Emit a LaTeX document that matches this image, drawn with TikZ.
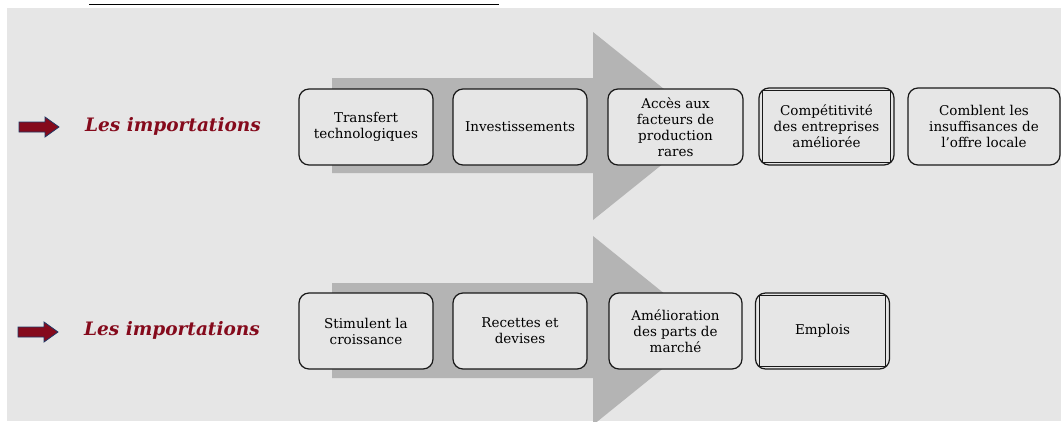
\documentclass[tikz,border=0pt]{standalone}
\usepackage{fontspec}
\setmainfont{DejaVu Serif}

\definecolor{fondgris}{HTML}{E6E6E6}
\definecolor{flechegris}{HTML}{B4B4B4}
\definecolor{bordeaux}{HTML}{850A1C}
\definecolor{bleunuit}{HTML}{1F3864}

\tikzset{
  etape/.style={draw=black!90, line width=1.2pt, rounded corners=10pt, fill=fondgris,
    minimum width=134pt, minimum height=76pt, align=center, inner sep=2pt,
    font=\fontsize{13.5}{16}\selectfont},
  titre/.style={text=bordeaux, font=\fontsize{18.5}{22}\selectfont\bfseries\itshape},
  fleche/.style={fill=bordeaux, draw=bleunuit, line width=0.8pt},
  grandefleche/.style={fill=flechegris, draw=none}
}

\begin{document}
\begin{tikzpicture}[x=1pt,y=-1pt]
\useasboundingbox (0,0) rectangle (1061,421);
\clip (0,0) rectangle (1061,421);

\fill[fondgris] (7,8) rectangle (1061,421);
\draw[line width=1.6pt] (89,4.5) -- (499,4.5);

% grandes fleches
\draw [grandefleche] plot coordinates {(332,78) (593,78) (593,32) (710,126) (593,220) (593,173) (332,173)} -- cycle;
\draw [grandefleche] plot coordinates {(332,283) (593,283) (593,236) (710,330.5) (593,425) (593,378) (332,378)} -- cycle;

% premiere ligne
\draw [fleche] plot coordinates {(19,122) (45,122) (45,117) (59,127) (45,137) (45,132) (19,132)} -- cycle;
\node[titre] (imp1) at (173,126) {Les importations};

\node[etape] (transfert) at (366,127) {Transfert\\technologiques};
\node[etape] (invest) at (520,127) {Investissements};
\node[etape, minimum width=135pt] (acces) at (675.5,127) {Accès aux\\facteurs de\\production\\rares};
\node[etape, minimum width=135pt, minimum height=77pt] (compet) at (826.5,126.5) {Compétitivité\\des entreprises\\améliorée};
\draw[line width=0.9pt, black!90] ([shift={(4.5,-3.5)}]compet.south west) rectangle ([shift={(-4.5,3.5)}]compet.north east);
\node[etape, minimum width=152pt, minimum height=77pt] (comblent) at (984,126.5) {Comblent les\\insuffisances de\\l’offre locale};

% deuxieme ligne
\draw [fleche] plot coordinates {(18,327) (44,327) (44,322) (58,332) (44,342) (44,337) (18,337)} -- cycle;
\node[titre] (imp2) at (172,330) {Les importations};

\node[etape] (stimulent) at (366,331) {Stimulent la\\croissance};
\node[etape] (recettes) at (520,331) {Recettes et\\devises};
\node[etape, minimum width=133pt] (amelio) at (675.5,331) {Amélioration\\des parts de\\marché};
\node[etape, minimum width=134pt] (emplois) at (822.5,331) {Emplois};
\draw[line width=0.9pt, black!90] ([shift={(4.5,-3.5)}]emplois.south west) rectangle ([shift={(-4.5,3.5)}]emplois.north east);
\end{tikzpicture}
\end{document}
